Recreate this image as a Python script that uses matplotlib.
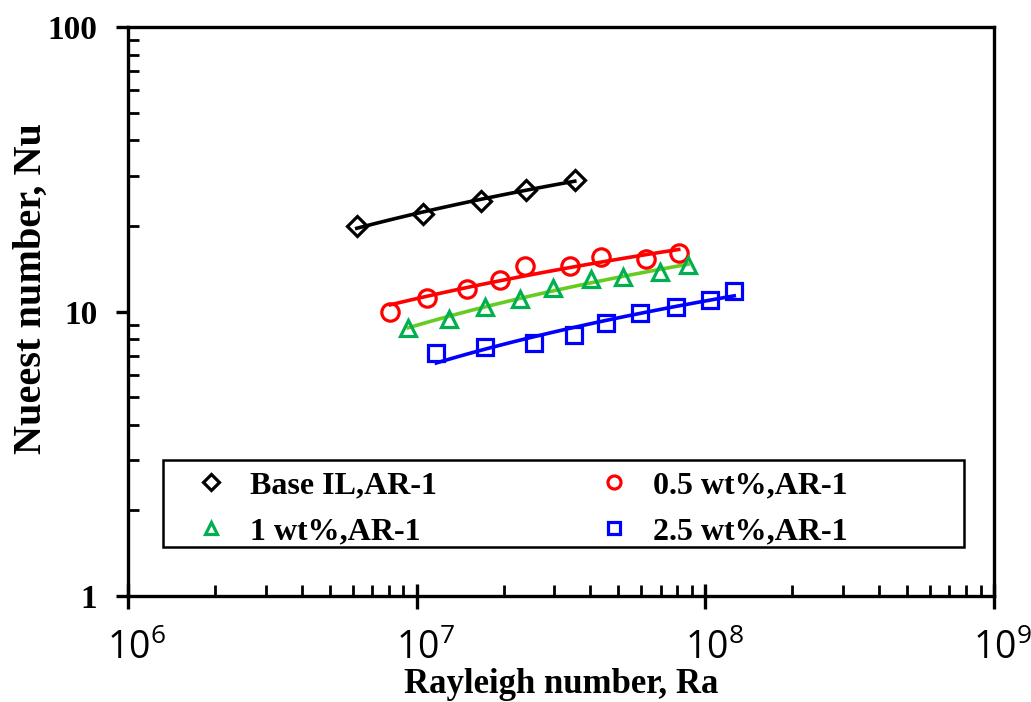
import numpy as np
import matplotlib
matplotlib.use("Agg")
import matplotlib.pyplot as plt
from matplotlib.patches import Rectangle
from matplotlib.ticker import LogLocator, FixedLocator, NullFormatter

# ---- data ----
ra_base = [6.2e6, 1.05e7, 1.67e7, 2.4e7, 3.53e7]
nu_base = [20.0, 22.0, 24.5, 26.7, 29.0]

ra_05 = [8.1e6, 1.09e7, 1.49e7, 1.95e7, 2.38e7, 3.39e7, 4.36e7, 6.25e7, 8.09e7]
nu_05 = [10.0, 11.2, 11.97, 12.9, 14.45, 14.45, 15.5, 15.3, 16.0]

ra_1 = [9.35e6, 1.29e7, 1.72e7, 2.28e7, 2.97e7, 4.03e7, 5.19e7, 6.95e7, 8.71e7]
nu_1 = [8.73, 9.39, 10.4, 11.1, 12.1, 13.0, 13.2, 13.8, 14.6]

ra_25 = [1.17e7, 1.72e7, 2.55e7, 3.50e7, 4.54e7, 5.95e7, 7.89e7, 1.035e8, 1.26e8]
nu_25 = [7.13, 7.48, 7.77, 8.27, 9.09, 9.85, 10.4, 11.0, 11.8]

labels = ["Base IL,AR-1", "0.5 wt%,AR-1", "1 wt%,AR-1", "2.5 wt%,AR-1"]
x_ticks = [1e6, 1e7, 1e8, 1e9]
x_ticklabels = ["$\\mathregular{\\enspace10^{6}}$", "$\\mathregular{\\enspace10^{7}}$",
                "$\\mathregular{\\enspace10^{8}}$", "$\\mathregular{\\enspace10^{9}}$"]
y_ticks = [1, 10, 100]
y_ticklabels = ["1", "10", "100"]

serif = ["Liberation Serif", "DejaVu Serif"]
sans = ["Open Sans", "DejaVu Sans"]

fig = plt.figure(figsize=(10.31, 7.02), dpi=100)
ax = fig.add_axes([0.1242, 0.151, 0.8398, 0.8105])

series = [
    (ra_base, nu_base, "D", "black", "black", 10.5),
    (ra_05, nu_05, "o", "#ff0000", "#ff0000", 12.5),
    (ra_1, nu_1, "^", "#00b050", "#66cc22", 11.5),
    (ra_25, nu_25, "s", "#0000ff", "#0000ff", 12),
]

handles = []
for (x, y, m, mc, lc, ms), lab in zip(series, labels):
    x = np.asarray(x); y = np.asarray(y)
    # logarithmic trend line  Nu = a ln(Ra) + b
    p = np.polyfit(np.log(x), y, 1)
    xf = np.geomspace(x.min(), x.max(), 60)
    yf = np.polyval(p, np.log(xf))
    ax.plot(xf, yf, color=lc, lw=2.6, zorder=2)
    h = ax.plot(x, y, linestyle="none", marker=m, markersize=ms,
                markerfacecolor="none", markeredgecolor=mc, markeredgewidth=2.3,
                label=lab, zorder=3)[0]
    handles.append(h)

ax.set_xscale("log")
ax.set_yscale("log")
ax.set_xlim(1e6, 1e9)
ax.set_ylim(1, 100)

ax.xaxis.set_major_locator(FixedLocator(x_ticks))
ax.set_xticklabels(x_ticklabels, fontsize=27, family=sans)
ax.yaxis.set_major_locator(FixedLocator(y_ticks))
ax.set_yticklabels(y_ticklabels, fontsize=24, family=serif, fontweight="bold")
ax.xaxis.set_minor_locator(LogLocator(base=10, subs=np.arange(2, 10)))
ax.yaxis.set_minor_locator(LogLocator(base=10, subs=np.arange(2, 10)))
ax.xaxis.set_minor_formatter(NullFormatter())
ax.yaxis.set_minor_formatter(NullFormatter())

for s in ax.spines.values():
    s.set_linewidth(2.4)
ax.tick_params(axis="x", which="major", direction="inout", length=18, width=2.4, pad=15)
ax.tick_params(axis="y", which="major", direction="out", length=9, width=2.4, pad=13)
ax.tick_params(which="minor", direction="in", length=8, width=2.0)

ax.set_xlabel("Rayleigh number, Ra", fontsize=25, family=serif, fontweight="bold", labelpad=0)
ax.set_ylabel("Nueest number, Nu", fontsize=29, family=serif, fontweight="bold")
ax.yaxis.set_label_coords(-0.090, 0.54)

# legend frame
ax.add_patch(Rectangle((0.0404, 0.0861), 0.925, 0.1529, transform=ax.transAxes,
                       facecolor="white", edgecolor="black", lw=1.8, zorder=4))

order = [0, 2, 1, 3]
leg = ax.legend([handles[i] for i in order], [labels[i] for i in order], ncol=2,
                loc="upper left", bbox_to_anchor=(0.0534, 0.2202),
                prop={"family": serif, "weight": "bold", "size": 23},
                frameon=False, borderpad=0, borderaxespad=0,
                handlelength=2.3, handletextpad=0.07, labelspacing=0.52,
                columnspacing=4.39, markerscale=0.75)
leg.set_zorder(5)

fig.savefig("out.png", dpi=100, facecolor="white")
